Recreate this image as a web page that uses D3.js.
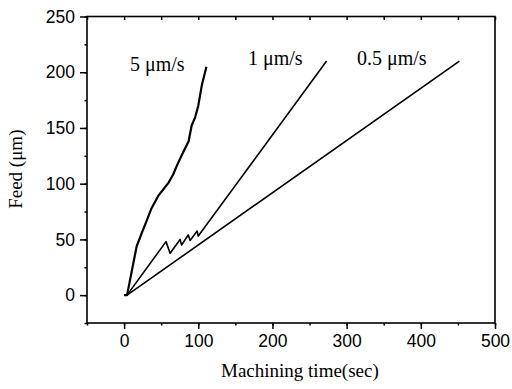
<!DOCTYPE html>
<html>
<head>
<meta charset="utf-8">
<script src="https://cdn.jsdelivr.net/npm/d3@7"></script>
<style>
  body { margin: 0; background: #fff; }
  #chart { width: 512px; height: 389px; }
  .tick text { font-family: "Liberation Sans", Arial, sans-serif; font-size: 17.5px; fill: #000; }
  .lbl { font-family: "Liberation Serif", "Times New Roman", serif; font-size: 19px; fill: #000; }
  .ann { font-family: "Liberation Serif", "Times New Roman", serif; font-size: 20px; fill: #000; }
</style>
</head>
<body>
<div id="chart"></div>
<script>
// DATA
const xTicks = [0, 100, 200, 300, 400, 500];
const yTicks = [0, 50, 100, 150, 200, 250];

const rate5 = [[0, 0], [4, 0], [17, 44], [20, 49], [24, 56], [30, 66], [37, 78], [46, 89], [53, 95], [60, 101], [66, 108], [71, 116], [78, 126], [87, 138], [91, 152], [96, 160], [100, 170], [105, 189], [111, 205]];
const rate1 = [[0, 0], [4, 0], [56.5, 48], [62, 37.5], [75.5, 50], [77.5, 45], [86.5, 54], [89, 49], [98.5, 57.5], [100, 53], [273, 210]];
const rate05 = [[0, 0], [4, 0], [452, 210]];

const labels = [
  { text: '5 \u03bcm/s', x: 8, y: 201 },
  { text: '1 \u03bcm/s', x: 167, y: 206.5 },
  { text: '0.5 \u03bcm/s', x: 314, y: 206.5 },
];

// LAYOUT
const W = 512, H = 389;
const m = { top: 16.5, right: 17, bottom: 66, left: 87 };
const w = W - m.left - m.right;
const h = H - m.top - m.bottom;

const svg = d3.select('#chart')
  .append('svg')
  .attr('width', W)
  .attr('height', H)
  .append('g')
  .attr('transform', `translate(${m.left},${m.top})`);

// SCALES
const x = d3.scaleLinear().domain([-50, 500]).range([0, w]);
const y = d3.scaleLinear().domain([-25, 250]).range([h, 0]);

const minorX = d3.range(-50, 501, 50);
const minorY = d3.range(-25, 251, 25);

// AXES
const gx = svg.append('g')
  .attr('transform', `translate(0,${h})`)
  .call(d3.axisBottom(x).tickValues(minorX).tickSize(2.5).tickFormat(''));
gx.append('g')
  .call(d3.axisBottom(x).tickValues(xTicks).tickSize(6).tickPadding(6).tickFormat(d3.format('d')));

const gy = svg.append('g')
  .call(d3.axisLeft(y).tickValues(minorY).tickSize(2.5).tickFormat(''));
gy.append('g')
  .call(d3.axisLeft(y).tickValues(yTicks).tickSize(7).tickPadding(5).tickFormat(d3.format('d')));

// TOP TICKS (inward)
svg.append('g')
  .call(d3.axisTop(x).tickValues(minorX).tickSize(-3.5).tickFormat(''));

svg.selectAll('.domain').remove();
svg.selectAll('.tick line').attr('stroke', '#000').attr('stroke-width', 1.5);

// FRAME
svg.append('rect')
  .attr('x', 0).attr('y', 0)
  .attr('width', w).attr('height', h)
  .attr('fill', 'none')
  .attr('stroke', '#000')
  .attr('stroke-width', 1.6);

// LINES
const line = d3.line().x((d) => x(d[0])).y((d) => y(d[1]));

[[rate5, 2.2], [rate1, 1.6], [rate05, 1.6]].forEach(([d, sw]) => {
  svg.append('path')
    .datum(d)
    .attr('fill', 'none')
    .attr('stroke', '#000')
    .attr('stroke-width', sw)
    .attr('stroke-linejoin', 'round')
    .attr('d', line);
});

// ANNOTATIONS
svg.selectAll('.ann')
  .data(labels)
  .enter()
  .append('text')
  .attr('class', 'ann')
  .attr('x', (d) => x(d.x))
  .attr('y', (d) => y(d.y))
  .text((d) => d.text);

// AXIS TITLES
svg.append('text')
  .attr('class', 'lbl')
  .attr('x', x(237))
  .attr('y', h + 54)
  .attr('text-anchor', 'middle')
  .text('Machining time(sec)');

svg.append('text')
  .attr('class', 'lbl')
  .attr('transform', `translate(${-65},${y(113)}) rotate(-90)`)
  .attr('text-anchor', 'middle')
  .text('Feed (\u03bcm)');
</script>
</body>
</html>
